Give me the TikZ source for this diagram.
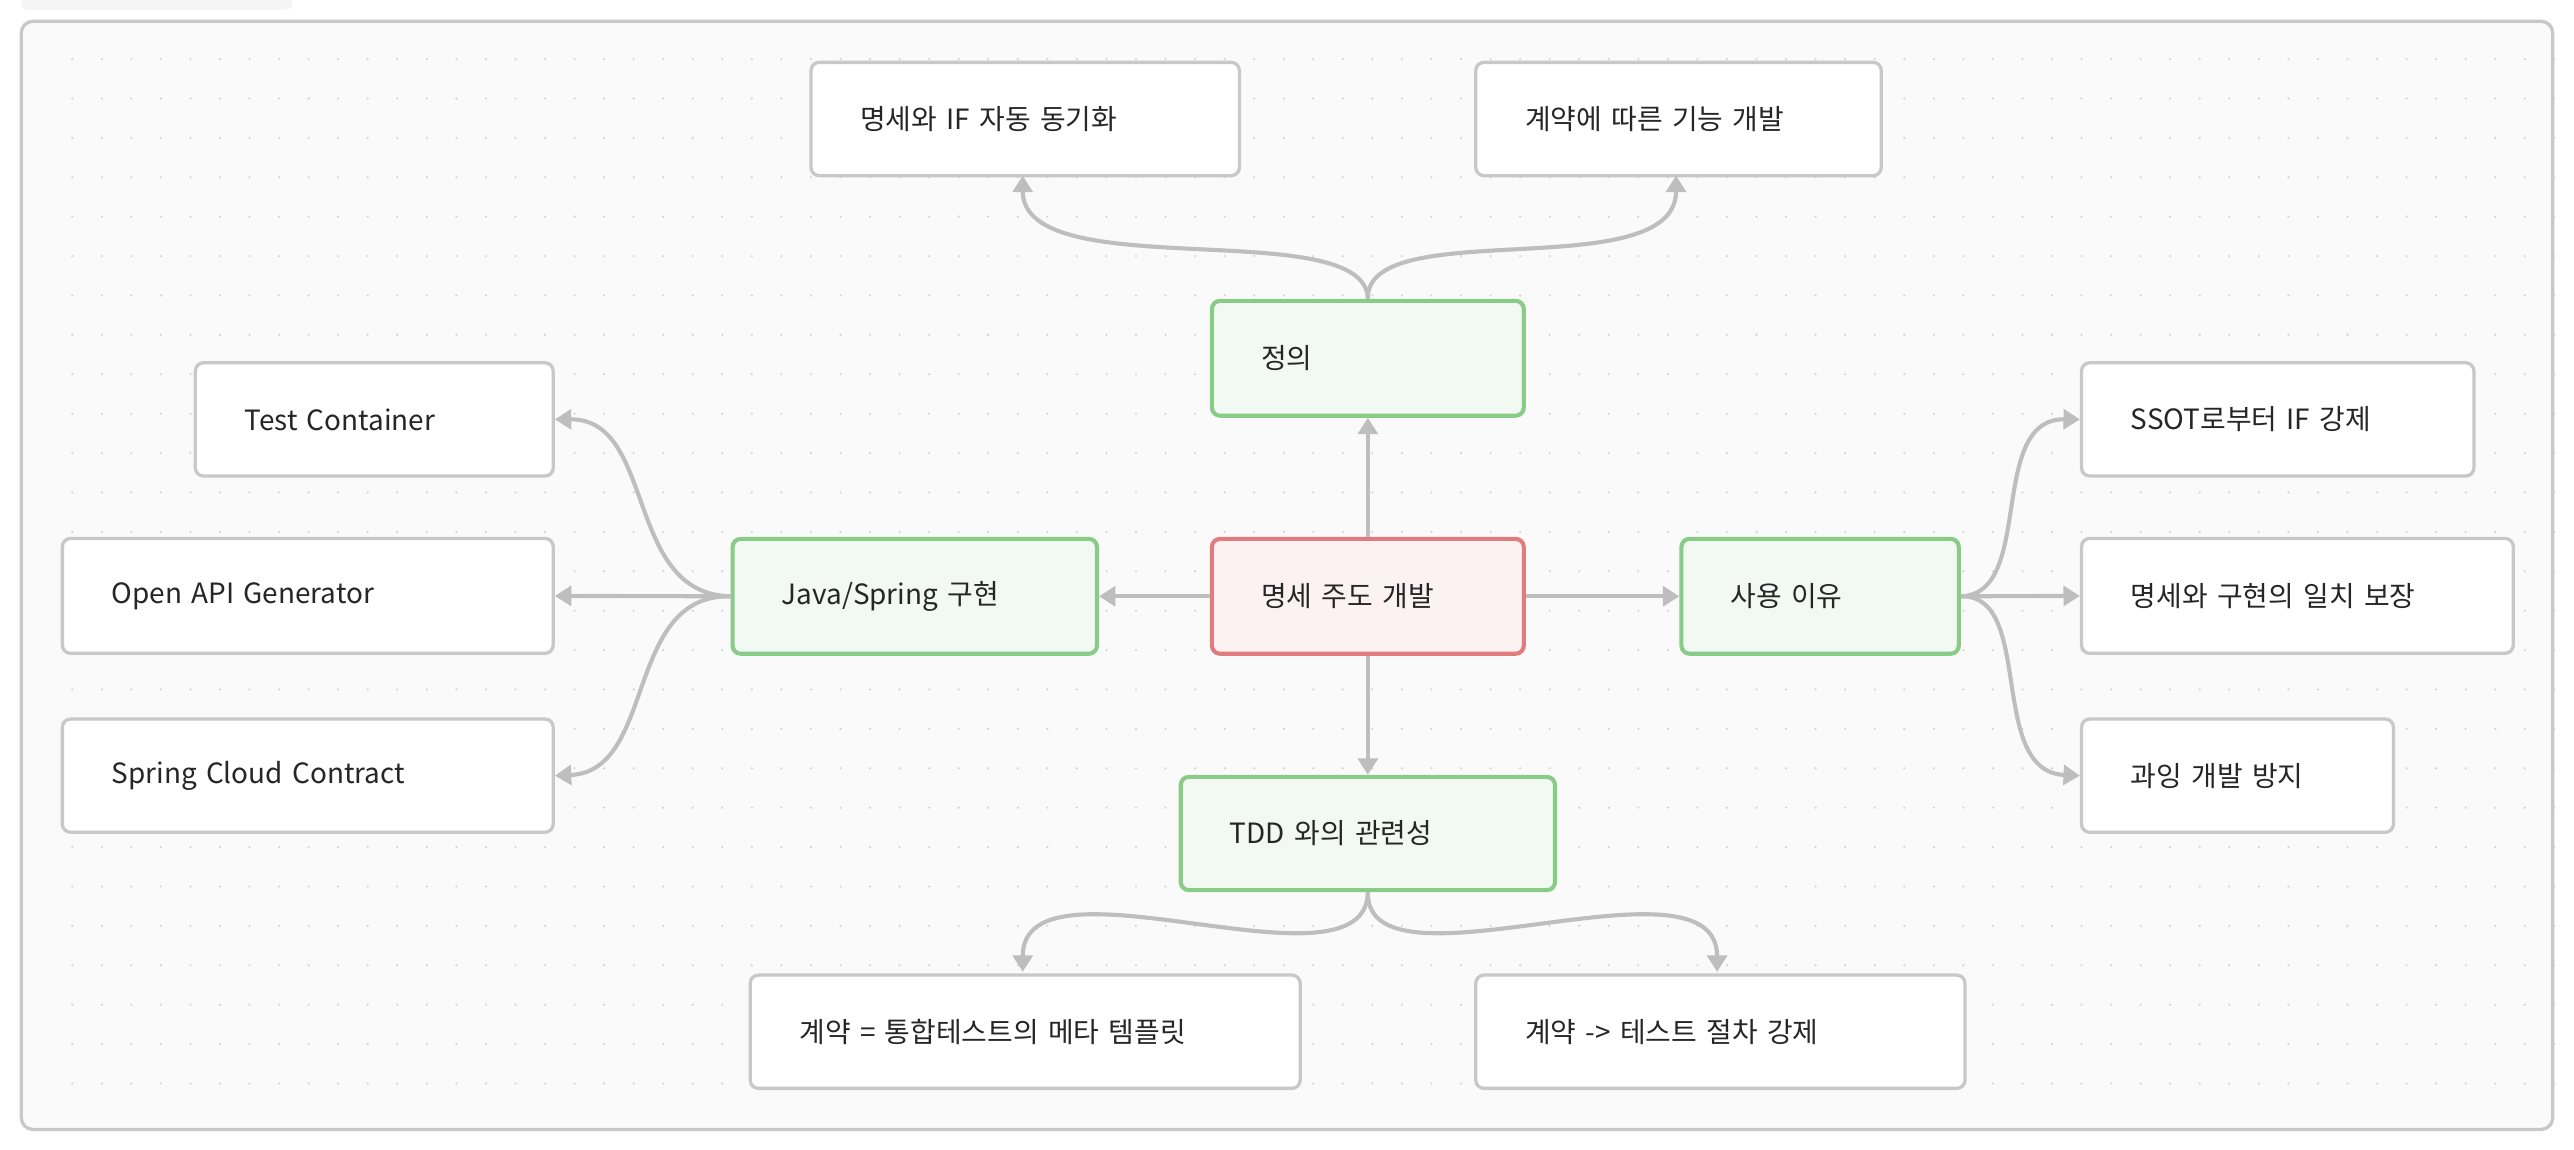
\documentclass[tikz,border=0pt]{standalone}
\usepackage{fontspec}
\setmainfont{Noto Sans CJK KR}
\usetikzlibrary{arrows.meta}
\definecolor{edgegray}{HTML}{BEBEBE}
\definecolor{boxgray}{HTML}{C8C8C8}
\definecolor{topicgreen}{HTML}{88CC88}
\definecolor{topicfill}{HTML}{F2F8F2}
\definecolor{rootred}{HTML}{E07C80}
\definecolor{rootfill}{HTML}{FCF2F2}
\tikzset{
  box/.style args={#1/#2}{draw=boxgray, line width=2pt, fill=white, rounded corners=5pt,
    anchor=north west, minimum width=#1, minimum height=#2, text width=#1-60pt,
    inner xsep=30pt, align=left, font=\fontsize{17}{20}\selectfont, text=black!85},
  topic/.style={draw=topicgreen, fill=topicfill, line width=2.5pt},
  root/.style={draw=rootred, fill=rootfill, line width=2.5pt},
  link/.style={draw=edgegray, line width=2.5pt, -{Triangle[length=10pt,width=12pt]}},
}
\begin{document}
\begin{tikzpicture}[x=1pt,y=-1pt]
  \useasboundingbox (0,0) rectangle (1568,700);
  \fill[black!4, rounded corners=4pt] (13,-10) rectangle (178,6);
  \draw[boxgray, line width=2pt, fill=black!2, rounded corners=7pt] (13,13) rectangle (1555,688);
  \foreach \i in {0,...,84} {
    \foreach \j in {0,...,26} {
      \fill[black!18] (44+\i*18, 36+\j*24) circle (0.7pt);
    }
  }
  % nodes
  \node[box=190pt/70pt, root] (spec) at (737,327) {명세 주도 개발};
  \node[box=190pt/70pt, topic] (def) at (737,182) {정의};
  \node[box=222pt/70pt, topic] (java) at (445,327) {Java/Spring 구현};
  \node[box=169pt/70pt, topic] (why) at (1023,327) {사용 이유};
  \node[box=228pt/69pt, topic] (tdd) at (718,472) {TDD 와의 관련성};
  \node[box=261pt/69pt] (sync) at (493,37) {명세와 IF 자동 동기화};
  \node[box=247pt/69pt] (contract) at (898,37) {계약에 따른 기능 개발};
  \node[box=218pt/69pt] (tc) at (118,220) {Test Container};
  \node[box=299pt/70pt] (openapi) at (37,327) {Open API Generator};
  \node[box=299pt/69pt] (scc) at (37,437) {Spring Cloud Contract};
  \node[box=239pt/69pt] (ssot) at (1267,220) {SSOT로부터 IF 강제};
  \node[box=263pt/70pt] (match) at (1267,327) {명세와 구현의 일치 보장};
  \node[box=190pt/69pt] (over) at (1267,437) {과잉 개발 방지};
  \node[box=335pt/69pt] (meta) at (456,593) {계약 = 통합테스트의 메타 템플릿};
  \node[box=298pt/69pt] (proc) at (898,593) {계약 -> 테스트 절차 강제};
  \coordinate (syncin) at (623,107);
  \coordinate (contractin) at (1021,107);
  \coordinate (metain) at (623,592);
  \coordinate (procin) at (1046,592);
  % connectors
  \draw[link] (spec) -- (def);
  \draw[link] (spec) -- (java);
  \draw[link] (spec) -- (why);
  \draw[link] (spec) -- (tdd);
  \draw[link] (def.north) .. controls (832,130) and (623,175) .. (syncin);
  \draw[link] (def.north) .. controls (832,130) and (1021,175) .. (contractin);
  \draw[link] (java.west) .. controls (380,362) and (400,255) .. (tc.east);
  \draw[link] (java.west) -- (openapi.east);
  \draw[link] (java.west) .. controls (380,362) and (400,470) .. (scc.east);
  \draw[link] (why.east) .. controls (1240,362) and (1210,255) .. (ssot.west);
  \draw[link] (why.east) -- (match.west);
  \draw[link] (why.east) .. controls (1240,362) and (1210,470) .. (over.west);
  \draw[link] (tdd.south) .. controls (832,610) and (623,515) .. (metain);
  \draw[link] (tdd.south) .. controls (832,610) and (1046,515) .. (procin);
\end{tikzpicture}
\end{document}
